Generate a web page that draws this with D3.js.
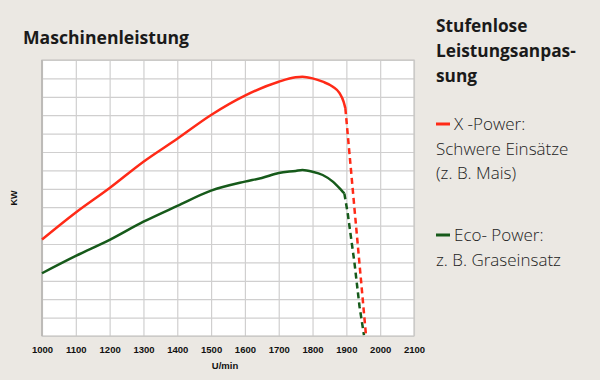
<!DOCTYPE html>
<html><head><meta charset="utf-8">
<script src="https://cdn.jsdelivr.net/npm/d3@7"></script>
<style>
html,body{margin:0;padding:0;background:#ebe8e3;}
svg{display:block;}
</style></head>
<body>
<svg id="c" width="600" height="380"></svg>
<script>
// Data
const xTicks = [1000,1100,1200,1300,1400,1500,1600,1700,1800,1900,2000,2100];
const redSolidRpm = [1000,1100,1200,1300,1400,1500,1600,1700,1750,1770,1800,1830,1860,1880,1892,1897];
const redSolidKw  = [5.24,6.71,8.04,9.47,10.72,12.01,13.06,13.82,14.06,14.09,14.0,13.82,13.55,13.2,12.73,12.38];
const redDashRpm  = [1897,1958];
const redDashKw   = [12.38,0.05];
const greenSolidRpm = [1000,1100,1200,1300,1400,1500,1600,1650,1700,1750,1770,1800,1830,1860,1885,1894];
const greenSolidKw  = [3.41,4.35,5.22,6.21,7.07,7.90,8.39,8.59,8.86,8.97,9.02,8.93,8.75,8.39,7.93,7.75];
const greenDashRpm  = [1894,1904,1924,1939,1952];
const greenDashKw   = [7.75,6.67,3.97,1.59,0.05];

const svg = d3.select("#c");
const m = {l:42, t:60, r:414, b:336};
const x = d3.scaleLinear().domain([1000,2100]).range([m.l, m.r]);
const y = d3.scaleLinear().domain([0,15]).range([m.b, m.t]);

// plot background
svg.append("rect").attr("x",m.l).attr("y",m.t).attr("width",m.r-m.l).attr("height",m.b-m.t).attr("fill","#ffffff");

// grid via axes
const gx = svg.append("g").attr("transform",`translate(0,${m.b})`)
  .call(d3.axisBottom(x).tickValues(xTicks).tickSize(-(m.b-m.t)).tickFormat(d3.format("d")).tickPadding(8));
gx.select(".domain").remove();
gx.selectAll(".tick line").attr("stroke","#d0cfcf").attr("stroke-width",1.2);
gx.selectAll(".tick text").attr("font-family","'Liberation Sans', Arial, sans-serif")
  .attr("font-size","9.5px").attr("font-weight","bold").attr("fill","#111").attr("dy","0.9em");

const gy = svg.append("g").attr("transform",`translate(${m.l},0)`)
  .call(d3.axisLeft(y).ticks(15).tickSize(-(m.r-m.l)).tickFormat(""));
gy.select(".domain").remove();
gy.selectAll(".tick line").attr("stroke","#d0cfcf").attr("stroke-width",1.2);

// frame
svg.append("rect").attr("x",m.l).attr("y",m.t).attr("width",m.r-m.l).attr("height",m.b-m.t)
  .attr("fill","none").attr("stroke","#c8c6c4").attr("stroke-width",1.2);
svg.append("line").attr("x1",m.l).attr("x2",m.l).attr("y1",m.t).attr("y2",m.b)
  .attr("stroke","#bdbbb8").attr("stroke-width",2);

const line = d3.line().x(d=>x(d[0])).y(d=>y(d[1])).curve(d3.curveMonotoneX);
const lineL = d3.line().x(d=>x(d[0])).y(d=>y(d[1]));
const zip = (a,b)=>a.map((v,i)=>[v,b[i]]);

const red = "#ff2a17", green = "#165a1a";
svg.append("path").attr("d",lineL(zip(greenDashRpm,greenDashKw))).attr("fill","none")
  .attr("stroke",green).attr("stroke-width",2.5).attr("stroke-dasharray","6,4");
svg.append("path").attr("d",lineL(zip(redDashRpm,redDashKw))).attr("fill","none")
  .attr("stroke",red).attr("stroke-width",2.5).attr("stroke-dasharray","6,4");
svg.append("path").attr("d",line(zip(redSolidRpm,redSolidKw))).attr("fill","none")
  .attr("stroke",red).attr("stroke-width",2.5).attr("stroke-linejoin","round");
svg.append("path").attr("d",line(zip(greenSolidRpm,greenSolidKw))).attr("fill","none")
  .attr("stroke",green).attr("stroke-width",2.5).attr("stroke-linejoin","round");

// axis titles
svg.append("text").attr("x",225).attr("y",369).attr("text-anchor","middle")
  .attr("font-family","'Liberation Sans', Arial, sans-serif").attr("font-size","9.5px").attr("font-weight","bold")
  .attr("fill","#111").text("U/min");
svg.append("text").attr("transform","translate(17,198) rotate(-90)").attr("text-anchor","middle")
  .attr("font-family","'Liberation Sans', Arial, sans-serif").attr("font-size","9px").attr("font-weight","bold")
  .attr("fill","#111").text("KW");

// titles
const ff = "'Open Sans', 'Noto Sans', sans-serif";
svg.append("text").attr("x",23).attr("y",44).attr("font-family",ff).attr("font-size","17.6px")
  .attr("font-weight","bold").attr("fill","#1a1a1a").text("Maschinenleistung");
const rt = ["Stufenlose","Leistungsanpas-","sung"];
rt.forEach((t,i)=>svg.append("text").attr("x",436).attr("y",32+i*25).attr("font-family",ff)
  .attr("font-size","17.3px").attr("font-weight","bold").attr("fill","#1a1a1a").text(t));

// legend
const legend = [
  {color:red, lines:["X -Power:","Schwere Einsätze","(z. B. Mais)"], y:130},
  {color:green, lines:["Eco- Power:","z. B. Graseinsatz"], y:241}
];
legend.forEach(g=>{
  svg.append("line").attr("x1",436).attr("x2",450).attr("y1",g.y-6).attr("y2",g.y-6)
    .attr("stroke",g.color).attr("stroke-width",3);
  g.lines.forEach((t,i)=>svg.append("text").attr("x",i===0?454:436).attr("y",g.y+i*24.5)
    .attr("font-family",ff).attr("font-size","17px").attr("font-weight","300").attr("fill","#222").text(t));
});
</script>
</body></html>
